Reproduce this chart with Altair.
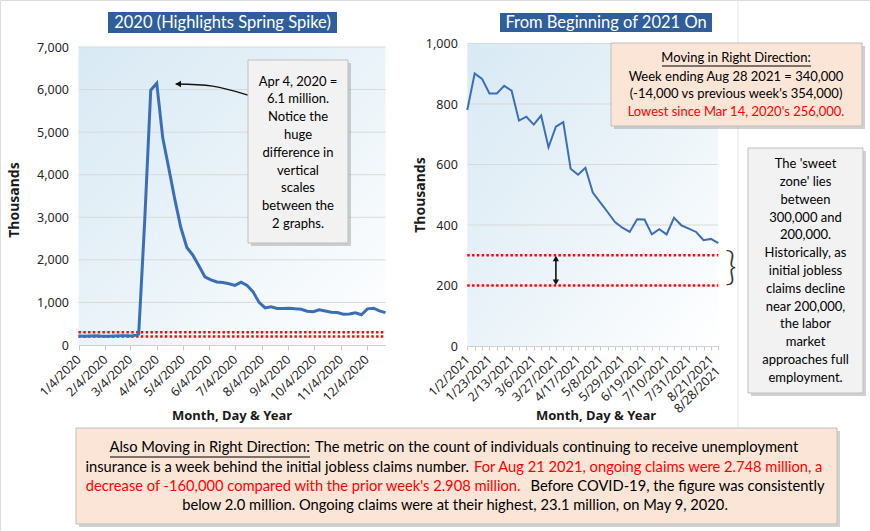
import altair as alt
import pandas as pd

# ---------------- data ----------------
claims_2020 = [212, 208, 214, 216, 203, 205, 213, 219, 217, 211,
               256, 2920, 5986, 6149, 4860, 4150, 3420, 2760, 2290, 2110,
               1860, 1600, 1530, 1480, 1470, 1440, 1400, 1475, 1400, 1250,
               1000, 870, 900, 860, 860, 865, 850, 840, 795, 780,
               825, 800, 770, 765, 725, 730, 755, 710, 850, 865,
               800, 760]
claims_2021 = [780, 901, 883, 835, 835, 860, 844, 745, 758, 732,
               762, 657, 725, 740, 586, 566, 589, 507, 475, 443,
               410, 391, 377, 419, 418, 369, 386, 369, 424, 399,
               388, 377, 350, 354, 340]
weeks_2020 = pd.date_range("2020-01-04", periods=len(claims_2020), freq="7D")
weeks_2021 = pd.date_range("2021-01-02", periods=len(claims_2021), freq="7D")

left_tick_months = [1, 2, 3, 4, 5, 6, 7, 8, 9, 10, 11, 12]   # ticks on the 4th
right_tick_labels = ["1/2/2021", "1/23/2021", "2/13/2021", "3/6/2021", "3/27/2021",
                     "4/17/2021", "5/8/2021", "5/29/2021", "6/19/2021", "7/10/2021",
                     "7/31/2021", "8/21/2021", "8/28/2021"]
left_y_ticks = [0, 1000, 2000, 3000, 4000, 5000, 6000, 7000]
right_y_ticks = [0, 200, 400, 600, 800, 1000]
sweet_zone = [300, 200]

arrow_dates = pd.to_datetime(["2020-04-26", "2020-06-08", "2020-07-19"])
arrow_vals = [6131, 6080, 5872]
arrow_head_date = pd.to_datetime(["2020-04-29"])
arrow_head_val = [6131]
dbl_arrow_week = 12     # 3/27/2021
dbl_arrow_ends = [289, 211]

left_title = "2020 (Highlights Spring Spike)"
right_title = "From Beginning of 2021 On"
left_note = ["Apr 4, 2020 =", "6.1 million.", "Notice the", "huge", "difference in",
             "vertical", "scales", "between the", "2 graphs."]
sweet_note = ["The 'sweet", "zone' lies", "between", "300,000 and", "200,000.",
              "Historically, as", "initial jobless", "claims decline", "near 200,000,",
              "the labor", "market", "approaches full", "employment."]
moving_head = "Moving in Right Direction:"
moving_body = ["Week ending Aug 28 2021 = 340,000", "(-14,000 vs previous week's 354,000)"]
moving_red = "Lowest since Mar 14, 2020's 256,000."
bottom_l1 = ["Also Moving in Right Direction:",
             "The metric on the count of individuals continuing to receive unemployment"]
bottom_l2 = ["insurance is a week behind the initial jobless claims number.",
             "For Aug 21 2021, ongoing claims were 2.748 million, a"]
bottom_l3 = ["decrease of -160,000 compared with the prior week's 2.908 million.",
             "Before COVID-19, the figure was consistently"]
bottom_l4 = "below 2.0 million. Ongoing claims were at their highest, 23.1 million, on May 9, 2020."

# ---------------- layout (pixels) ----------------
W, H = 870, 531
LX0, LX1, LY0, LY1 = 78.5, 385.5, 345, 47
RX0, RX1, RY0, RY1 = 467.3, 718.3, 346, 43.5
AXFONT = "Noto Sans"
TXFONT = "Lato"
LINE_C = "#3C6EB8"
RED = "#FF0000"
LBL_C = "#262626"
LBL_PAD = 7
one = pd.DataFrame({"a": [0]})


def DT(y, m, d):
    return alt.DateTime(year=y, month=m, date=d)


grad = alt.LinearGradient(
    gradient="linear", x1=0, y1=0, x2=1, y2=1,
    stops=[alt.GradientStop(color="#D8E9F4", offset=0),
           alt.GradientStop(color="#E8F2F8", offset=0.45),
           alt.GradientStop(color="#FFFFFF", offset=1)])

# ---------------- left panel ----------------
L0, L1 = DT(2020, 1, 4), DT(2020, 12, 26)
xs_l = alt.Scale(domain=[L0, L1], range=[LX0, LX1], nice=False)
ys_l = alt.Scale(domain=[0, 7000], range=[LY0, LY1], nice=False, zero=False)
ax_lx = alt.Axis(orient="bottom", offset=LY0 - H, values=[DT(2020, m, 4) for m in left_tick_months],
                 format="%-m/%-d/%Y", labelAngle=-45, labelAlign="right", labelBaseline="middle",
                 labelPadding=LBL_PAD, tickSize=5, tickColor="#C8C8C8", domainColor="#D0D0D0",
                 labelFont=AXFONT, labelFontSize=12.5, labelColor=LBL_C,
                 labelOverlap=False, labelFlush=False, grid=False, title=None)
ax_ly = alt.Axis(orient="left", offset=-LX0, values=left_y_ticks, format=",d", domain=False,
                 ticks=False, tickSize=0, labelPadding=10, labelFont=AXFONT, labelFontSize=12.5,
                 labelColor=LBL_C, grid=False, title=None)


def lx(field=None, datum=None, axis=None):
    if datum is not None:
        return alt.XDatum(datum, type="temporal", scale=xs_l, axis=axis)
    return alt.X(field, type="temporal", scale=xs_l, axis=axis)


def ly(field=None, datum=None, axis=None):
    if datum is not None:
        return alt.YDatum(datum, type="quantitative", scale=ys_l, axis=axis)
    return alt.Y(field, type="quantitative", scale=ys_l, axis=axis)


df_l = pd.DataFrame({"week": weeks_2020, "claims": claims_2020})
bg_l = alt.Chart(one).mark_rect(fill=grad).encode(
    x=lx(datum=L0), x2=alt.X2Datum(L1), y=ly(datum=7000), y2=alt.Y2Datum(0))
grid_l = alt.Chart(pd.DataFrame({"v": left_y_ticks[1:]})).mark_rule(color="#D9D9D9", strokeWidth=1).encode(
    x=lx(datum=L0), x2=alt.X2Datum(L1), y=ly("v"))
red_l = alt.Chart(pd.DataFrame({"v": sweet_zone})).mark_rule(
    color=RED, strokeWidth=2.6, strokeDash=[2.4, 2.4]).encode(
    x=lx(datum=L0), x2=alt.X2Datum(L1), y=ly("v"))
line_l = alt.Chart(df_l).mark_line(color=LINE_C, strokeWidth=3).encode(
    x=lx("week", axis=ax_lx), y=ly("claims", axis=ax_ly))
arr_l = alt.Chart(pd.DataFrame({"week": arrow_dates, "v": arrow_vals})).mark_line(
    color="#111111", strokeWidth=1.3, interpolate="natural").encode(x=lx("week"), y=ly("v"))
head_l = alt.Chart(pd.DataFrame({"week": arrow_head_date, "v": arrow_head_val})).mark_point(
    shape="triangle-left", filled=True, color="#111111", size=40, opacity=1).encode(
    x=lx("week"), y=ly("v"))
left_layers = [bg_l, grid_l, red_l, line_l, arr_l, head_l]

# ---------------- right panel ----------------
week_labels_2021 = [f"{d.month}/{d.day}/{d.year}" for d in weeks_2021]
axis_labels = [l if l in right_tick_labels[:-1] else "" for l in week_labels_2021]
label_expr = "[" + ",".join("'" + l + "'" for l in axis_labels) + "][datum.value]"
n_r = len(claims_2021) - 1
xs_r = alt.Scale(domain=[0, n_r], range=[RX0, RX1], nice=False, zero=False)
ys_r = alt.Scale(domain=[0, 1000], range=[RY0, RY1], nice=False, zero=False)
ax_rx = alt.Axis(orient="bottom", offset=RY0 - H, values=list(range(len(claims_2021))),
                 labelExpr=label_expr, labelAngle=-45, labelAlign="right", labelBaseline="middle",
                 labelPadding=LBL_PAD, tickSize=4, tickColor="#C8C8C8", domainColor="#D0D0D0",
                 labelFont=AXFONT, labelFontSize=12.5, labelColor=LBL_C,
                 labelOverlap=False, labelFlush=False, grid=False, title=None)
ax_ry = alt.Axis(orient="left", offset=-RX0, values=right_y_ticks, format=",d", domain=False,
                 ticks=False, tickSize=0, labelPadding=10, labelFont=AXFONT, labelFontSize=12.5,
                 labelColor=LBL_C, grid=False, title=None)


def rx(field=None, datum=None, axis=None):
    if datum is not None:
        return alt.XDatum(datum, type="quantitative", scale=xs_r, axis=axis)
    return alt.X(field, type="quantitative", scale=xs_r, axis=axis)


def ry(field=None, datum=None, axis=None):
    if datum is not None:
        return alt.YDatum(datum, type="quantitative", scale=ys_r, axis=axis)
    return alt.Y(field, type="quantitative", scale=ys_r, axis=axis)


df_r = pd.DataFrame({"idx": list(range(len(claims_2021))), "claims": claims_2021,
                     "week": week_labels_2021})
bg_r = alt.Chart(one).mark_rect(fill=grad).encode(
    x=rx(datum=0), x2=alt.X2Datum(n_r), y=ry(datum=1000), y2=alt.Y2Datum(0))
grid_r = alt.Chart(pd.DataFrame({"v": right_y_ticks[1:]})).mark_rule(color="#D9D9D9", strokeWidth=1).encode(
    x=rx(datum=0), x2=alt.X2Datum(n_r), y=ry("v"))
red_r = alt.Chart(pd.DataFrame({"v": sweet_zone})).mark_rule(
    color=RED, strokeWidth=2.6, strokeDash=[2.4, 2.4]).encode(
    x=rx(datum=0), x2=alt.X2Datum(n_r), y=ry("v"))
line_r = alt.Chart(df_r).mark_line(color=LINE_C, strokeWidth=2).encode(
    x=rx("idx", axis=ax_rx), y=ry("claims", axis=ax_ry))
last_lbl = alt.Chart(one).mark_text(
    angle=315, align="right", baseline="middle", font=AXFONT, fontSize=12.5, color=LBL_C).encode(
    x=rx(datum=n_r), y=alt.value(RY0 + 4 + LBL_PAD + 12), text=alt.value(right_tick_labels[-1]))
dbl_rule = alt.Chart(one).mark_rule(color="#111111", strokeWidth=1.6).encode(
    x=rx(datum=dbl_arrow_week), y=ry(datum=dbl_arrow_ends[0]), y2=alt.Y2Datum(dbl_arrow_ends[1]))
dbl_up = alt.Chart(one).mark_point(shape="triangle-up", filled=True, color="#111111", size=40, opacity=1).encode(
    x=rx(datum=dbl_arrow_week), y=ry(datum=dbl_arrow_ends[0]))
dbl_dn = alt.Chart(one).mark_point(shape="triangle-down", filled=True, color="#111111", size=40, opacity=1).encode(
    x=rx(datum=dbl_arrow_week), y=ry(datum=dbl_arrow_ends[1]))
right_layers = [bg_r, grid_r, red_r, line_r, last_lbl, dbl_rule, dbl_up, dbl_dn]


# ---------------- annotations ----------------
def rect(x0, x1, y0, y1, fill, stroke=None, opacity=1.0):
    kw = dict(fill=fill, opacity=opacity)
    if stroke:
        kw.update(stroke=stroke, strokeWidth=1)
    return alt.Chart(one).mark_rect(**kw).encode(
        x=alt.value(x0), x2=alt.value(x1), y=alt.value(y0), y2=alt.value(y1))


def box(x0, x1, y0, y1, fill, stroke="#BFBFBF"):
    return [rect(x0 + 3, x1 + 3, y0 + 3, y1 + 3, "#9A9A9A", opacity=0.45),
            rect(x0, x1, y0, y1, fill, stroke)]


def txt(x, y, text, size=13, color="#000000", font=TXFONT, weight="normal",
        align="center", baseline="middle", lh=None, angle=0):
    kw = dict(fontSize=size, color=color, font=font, fontWeight=weight, align=align,
              baseline=baseline, angle=angle)
    if lh:
        kw["lineHeight"] = lh
    return alt.Chart(one).mark_text(**kw).encode(x=alt.value(x), y=alt.value(y), text=alt.value(text))


def vline(x, y0, y1, color="#000000", width=1):
    return alt.Chart(one).mark_rule(color=color, strokeWidth=width).encode(
        x=alt.value(x), y=alt.value(y0), y2=alt.value(y1))


def uline(x0, x1, y):
    return alt.Chart(one).mark_rule(color="#000000", strokeWidth=1).encode(
        x=alt.value(x0), x2=alt.value(x1), y=alt.value(y))


ann = [vline(738, 0, 427, "#E6E6E6")]
# titles
ann += [rect(108, 337, 12, 33, "#2F5E9A"), txt(222.5, 22.5, left_title, 16.5, "#FFFFFF")]
ann += [rect(500, 712, 13, 32, "#2F5E9A"), txt(606, 22.5, right_title, 16.5, "#FFFFFF")]
# axis titles
ann += [txt(15, 200, "Thousands", 14, "#1A1A1A", AXFONT, "bold", angle=270),
        txt(421, 195, "Thousands", 14, "#1A1A1A", AXFONT, "bold", angle=270),
        txt(232, 416, "Month, Day & Year", 13, "#1A1A1A", AXFONT, "bold"),
        txt(596, 416, "Month, Day & Year", 13, "#1A1A1A", AXFONT, "bold")]
# left note
ann += box(248, 348, 60, 243, "#F2F2F2")
ann += [txt(298, 81.7, left_note, 13, lh=17.8)]
# moving box
ann += box(611, 862, 43, 126, "#FBE5D6")
ann += [txt(736, 58.3, moving_head, 13), uline(662, 811, 66),
        txt(736, 76.7, moving_body, 13, lh=17.6),
        txt(736, 111.7, moving_red, 13, RED)]
# sweet zone box
ann += box(748, 863, 148, 393, "#F2F2F2")
ann += [txt(805.5, 164.3, sweet_note, 13, lh=17.8),
        txt(731, 268, "}", 40, "#333333", TXFONT, 300)]
# bottom box
ann += box(76, 837, 428, 524, "#FBE5D6")
FS = 14.7
S1, S2, S3 = 310, 469, 520.5
ann += [txt(S1, 448, bottom_l1[0], FS, align="right"), uline(S1 - 200, S1, 457),
        txt(S1 + 5, 448, bottom_l1[1], FS, align="left"),
        txt(S2, 467.5, bottom_l2[0], FS, align="right"),
        txt(S2 + 5, 467.5, bottom_l2[1], FS, RED, align="left"),
        txt(S3, 486.5, bottom_l3[0], FS, RED, align="right"),
        txt(S3 + 10, 486.5, bottom_l3[1], FS, align="left"),
        txt(455, 505.5, bottom_l4, FS)]

chart = alt.layer(*left_layers, *right_layers, *ann).resolve_scale(
    x="independent", y="independent").resolve_axis(x="independent", y="independent").properties(
    width=W, height=H, autosize=alt.AutoSizeParams(type="none"), padding=0
).configure_view(stroke=None).configure(background="#FFFFFF")

chart.save("out.html", embed_options={"renderer": "svg", "actions": False})
